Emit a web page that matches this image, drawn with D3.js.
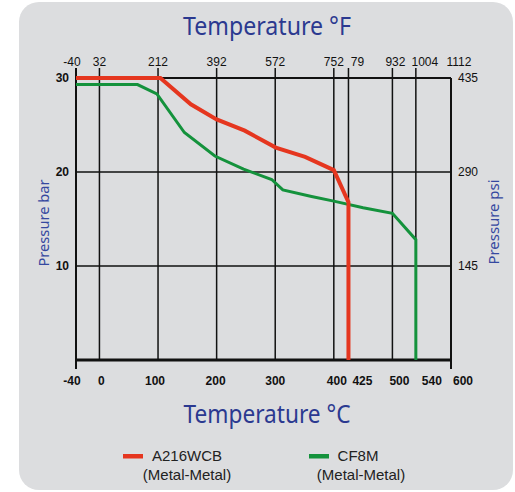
<!DOCTYPE html>
<html>
<head>
<meta charset="utf-8">
<script src="https://cdn.jsdelivr.net/npm/d3@7"></script>
<style>
  body { margin: 0; background: #fff; }
  svg { display: block; }
</style>
</head>
<body>
<div id="chart"></div>
<script>
// Ejes: temperatura en ºC abajo, ºF arriba (mismas posiciones)
const cTicks = [-40, 0, 100, 200, 300, 400, 425, 500, 540, 600];
const cLabels = ["-40", "0", "100", "200", "300", "400", "425", "500", "540", "600"];
const fLabels = ["-40", "32", "212", "392", "572", "752", "79", "932", "1004", "1112"];

// Presión: bar a la izquierda, psi a la derecha
const barTicks = [10, 20, 30];
const barLabels = ["10", "20", "30"];
const psiLabels = ["145", "290", "435"];

// Series
const wcbTemp = [-40, 104, 156, 200, 248, 301, 351, 400, 425, 425];
const wcbBar = [30, 30, 27.2, 25.6, 24.4, 22.6, 21.6, 20.2, 16.8, 0];
const cf8mTemp = [-40, 65, 98, 145, 197, 246, 294, 313, 362, 400, 450, 500, 540, 540];
const cf8mBar = [29.3, 29.3, 28.3, 24.2, 21.7, 20.3, 19.2, 18.1, 17.4, 16.9, 16.2, 15.6, 12.8, 0];

const seriesNames = ["A216WCB", "CF8M"];
const seriesSub = ["(Metal-Metal)", "(Metal-Metal)"];

const width = 515;
const height = 492;
const blue = "#2b3990";
const red = "#e5361f";
const green = "#14923c";

const svg = d3.select("#chart").append("svg")
    .attr("width", width)
    .attr("height", height);

// Fondo gris redondeado
svg.append("rect")
    .attr("x", 19).attr("y", 2)
    .attr("width", 494).attr("height", 488)
    .attr("rx", 20)
    .attr("fill", "#dcdddf");

const x = d3.scaleLinear().domain([-40, 600]).range([76, 451]);
const y = d3.scaleLinear().domain([0, 30]).range([360, 78]);

// Líneas verticales de la rejilla (con marca hacia arriba)
svg.selectAll(".vgrid")
    .data(cTicks.slice(0, -1))
    .enter().append("line")
    .attr("class", "vgrid")
    .attr("x1", d => x(d)).attr("x2", d => x(d))
    .attr("y1", y(30) - 10)
    .attr("y2", d => d === -40 ? y(0) + 9 : y(0))
    .attr("stroke", "#111")
    .attr("stroke-width", d => d === -40 ? 2 : 1.5);

// Borde derecho
svg.append("line")
    .attr("x1", x(600)).attr("x2", x(600))
    .attr("y1", y(30)).attr("y2", y(0) + 9)
    .attr("stroke", "#111").attr("stroke-width", 2);

// Líneas horizontales
svg.selectAll(".hgrid")
    .data([10, 20, 30])
    .enter().append("line")
    .attr("class", "hgrid")
    .attr("x1", x(-40)).attr("x2", x(600))
    .attr("y1", d => y(d)).attr("y2", d => y(d))
    .attr("stroke", "#111")
    .attr("stroke-width", d => d === 30 ? 2 : 1.5);

// Eje inferior grueso
svg.append("line")
    .attr("x1", x(-40)).attr("x2", x(600))
    .attr("y1", y(0)).attr("y2", y(0))
    .attr("stroke", "#111").attr("stroke-width", 3);

// Pequeños ajustes para que no se monten las etiquetas
const bottomShift = { "-40": -4, "0": 2, "100": -3, "200": -1, "400": 3, "425": 14, "500": 7, "540": 16, "600": 12 };
const topShift = { "-40": -4, "212": -3, "425": 9, "500": 3, "540": 9, "600": 8 };

svg.selectAll(".clab")
    .data(cTicks)
    .enter().append("text")
    .attr("x", d => x(d) + (bottomShift[d] || 0))
    .attr("y", 385)
    .attr("text-anchor", "middle")
    .style("font-family", "'Liberation Sans', Arial, sans-serif")
    .style("font-weight", "bold")
    .style("font-size", "12px")
    .attr("fill", "#111")
    .text((d, i) => cLabels[i]);

svg.selectAll(".flab")
    .data(cTicks)
    .enter().append("text")
    .attr("x", d => x(d) + (topShift[d] || 0))
    .attr("y", 66)
    .attr("text-anchor", "middle")
    .style("font-family", "'Liberation Sans', Arial, sans-serif")
    .style("font-size", "12px")
    .attr("fill", "#111")
    .text((d, i) => fLabels[i]);

// Etiquetas bar (izquierda) y psi (derecha)
svg.selectAll(".blab")
    .data(barTicks)
    .enter().append("text")
    .attr("x", 69)
    .attr("y", d => y(d))
    .attr("dy", "0.35em")
    .attr("text-anchor", "end")
    .style("font-family", "'Liberation Sans', Arial, sans-serif")
    .style("font-weight", "bold")
    .style("font-size", "12px")
    .attr("fill", "#111")
    .text((d, i) => barLabels[i]);

svg.selectAll(".plab")
    .data(barTicks)
    .enter().append("text")
    .attr("x", 458)
    .attr("y", d => y(d))
    .attr("dy", "0.35em")
    .style("font-family", "'Liberation Sans', Arial, sans-serif")
    .style("font-size", "12px")
    .attr("fill", "#111")
    .text((d, i) => psiLabels[i]);

// Curvas
const line = d3.line()
    .x(d => x(d[0]))
    .y(d => y(d[1]));

svg.append("path")
    .datum(cf8mTemp.map((t, i) => [t, cf8mBar[i]]))
    .attr("d", line)
    .attr("fill", "none")
    .attr("stroke", green)
    .attr("stroke-width", 3);

svg.append("path")
    .datum(wcbTemp.map((t, i) => [t, wcbBar[i]]))
    .attr("d", line)
    .attr("fill", "none")
    .attr("stroke", red)
    .attr("stroke-width", 4);

// Títulos
svg.append("text")
    .attr("x", 267).attr("y", 35)
    .attr("text-anchor", "middle")
    .attr("textLength", 168)
    .attr("lengthAdjust", "spacingAndGlyphs")
    .style("font-family", "'Noto Sans', sans-serif")
    .style("font-size", "25px")
    .attr("fill", blue)
    .text("Temperature °F");

svg.append("text")
    .attr("x", 267).attr("y", 423)
    .attr("text-anchor", "middle")
    .attr("textLength", 167)
    .attr("lengthAdjust", "spacingAndGlyphs")
    .style("font-family", "'Noto Sans', sans-serif")
    .style("font-size", "25px")
    .attr("fill", blue)
    .text("Temperature °C");

svg.append("text")
    .attr("transform", "translate(49,223) rotate(-90)")
    .attr("text-anchor", "middle")
    .attr("textLength", 87)
    .attr("lengthAdjust", "spacingAndGlyphs")
    .style("font-family", "'Noto Sans', sans-serif")
    .style("font-size", "15px")
    .attr("fill", "#3548a0")
    .text("Pressure bar");

svg.append("text")
    .attr("transform", "translate(499,222) rotate(-90)")
    .attr("text-anchor", "middle")
    .attr("textLength", 85)
    .attr("lengthAdjust", "spacingAndGlyphs")
    .style("font-family", "'Noto Sans', sans-serif")
    .style("font-size", "15px")
    .attr("fill", "#3548a0")
    .text("Pressure psi");

// Leyenda
const legend = [
    { swatch: 123, text: 187, sub: 187, color: red },
    { swatch: 309, text: 358, sub: 361, color: green }
];

legend.forEach((l, i) => {
    svg.append("rect")
        .attr("x", l.swatch).attr("y", 454)
        .attr("width", 20).attr("height", 4.5)
        .attr("fill", l.color);
    svg.append("text")
        .attr("x", l.text).attr("y", 461)
        .attr("text-anchor", "middle")
        .style("font-family", "'Liberation Sans', Arial, sans-serif")
        .style("font-size", "15px")
        .attr("fill", "#222")
        .text(seriesNames[i]);
    svg.append("text")
        .attr("x", l.sub).attr("y", 480)
        .attr("text-anchor", "middle")
        .style("font-family", "'Liberation Sans', Arial, sans-serif")
        .style("font-size", "15px")
        .attr("fill", "#222")
        .text(seriesSub[i]);
});
</script>
</body>
</html>
